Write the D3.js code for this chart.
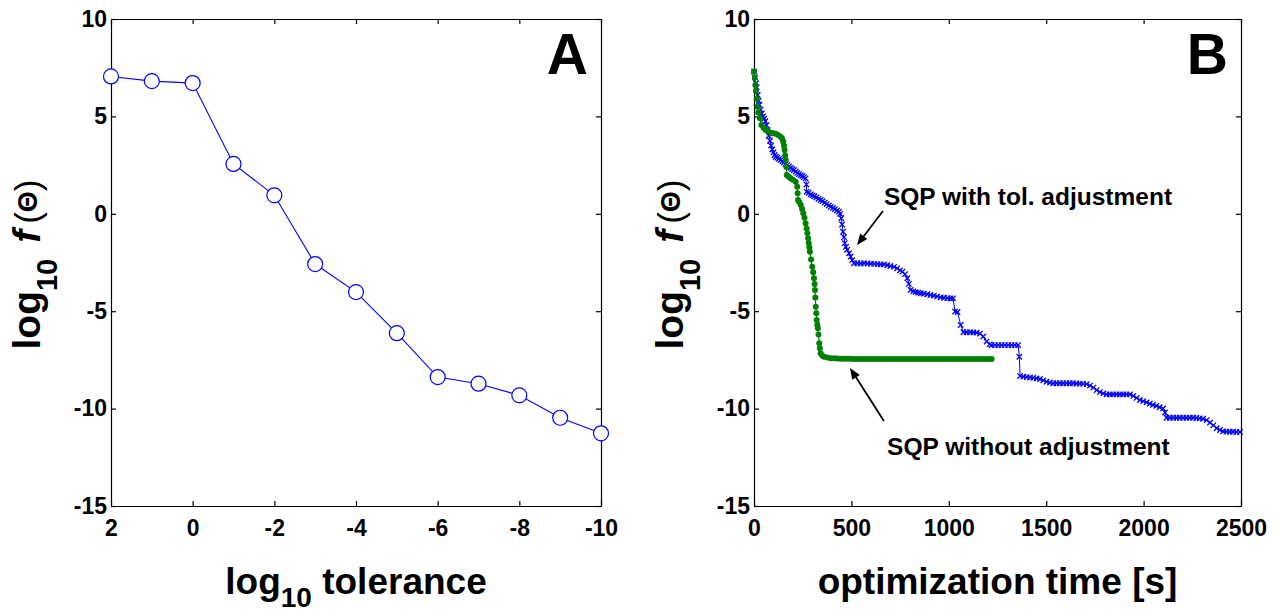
<!DOCTYPE html>
<html lang="en">
<head>
    <meta charset="UTF-8">
    <title>SQP tolerance and optimization time</title>
    <script src="https://d3js.org/d3.v7.min.js"></script>
    <style>
        body { margin: 0; background: #fff; }
        svg { display: block; font-family: "Liberation Sans", Arial, Helvetica, sans-serif; }
        .axis text { font-size: 23px; font-weight: bold; fill: #000; }
        .axis path, .axis line { stroke: #000; stroke-width: 1.2; }
    </style>
</head>
<body>
    <svg id="chart" width="1278" height="613"></svg>

    <script>
        // Panel A: final objective value per tolerance
        const tolExp = [2, 1, 0, -1, -2, -3, -4, -5, -6, -7, -8, -9, -10];
        const tolLogF = [7.05, 6.81, 6.71, 2.56, 0.95, -2.58, -4.02, -6.13, -8.38, -8.72, -9.32, -10.47, -11.27];

        // Panel B: SQP with tolerance adjustment (blue x)
        const timeAdj = [0, 5, 10, 14, 19, 24, 28, 34, 40, 46, 52, 58, 64, 70, 76, 82, 88, 94, 100, 106,
            112, 120, 128, 137, 146, 154, 162, 171, 180, 188, 196, 205, 214, 222, 231, 240, 248, 256, 265, 269,
            270, 280, 291, 300, 310, 320, 331, 342, 352, 363, 373, 384, 394, 405, 415, 426, 436, 442, 448, 452,
            457, 462, 466, 472, 478, 488, 496, 504, 513, 530, 548, 565, 582, 600, 617, 634, 650, 667, 684, 700,
            719, 735, 750, 762, 775, 787, 795, 804, 818, 830, 843, 856, 872, 889, 906, 923, 940, 958, 975, 992,
            1009, 1022, 1032, 1045, 1061, 1075, 1092, 1109, 1126, 1143, 1160, 1177, 1194, 1210, 1220, 1237, 1254, 1271, 1288, 1305,
            1322, 1339, 1356, 1362, 1366, 1383, 1400, 1417, 1434, 1451, 1468, 1485, 1502, 1519, 1536, 1553, 1570, 1587, 1604, 1621,
            1638, 1655, 1672, 1690, 1708, 1725, 1742, 1759, 1776, 1793, 1810, 1827, 1844, 1861, 1878, 1895, 1912, 1930, 1947, 1964,
            1981, 1998, 2015, 2032, 2048, 2065, 2082, 2100, 2110, 2118, 2135, 2152, 2169, 2186, 2203, 2220, 2237, 2254, 2271, 2288,
            2305, 2324, 2341, 2358, 2375, 2392, 2408, 2425, 2442, 2459, 2476, 2495];
        const logFAdj = [7.3, 7.0, 6.7, 6.5, 6.1, 5.8, 5.6, 5.35, 5.15, 5.0, 4.88, 4.75, 4.55, 4.3, 4.0, 3.75, 3.5, 3.3, 3.15, 3.02,
            2.93, 2.88, 2.82, 2.76, 2.7, 2.63, 2.56, 2.5, 2.43, 2.36, 2.3, 2.25, 2.17, 2.1, 2.04, 1.99, 1.94, 1.88, 1.82, 1.5,
            1.13, 1.08, 1.0, 0.95, 0.9, 0.84, 0.77, 0.71, 0.65, 0.57, 0.5, 0.43, 0.36, 0.3, 0.24, 0.17, 0.11, 0.0, -0.23, -0.55,
            -0.92, -1.2, -1.51, -1.7, -1.85, -2.03, -2.2, -2.38, -2.54, -2.54, -2.55, -2.54, -2.55, -2.56, -2.57, -2.58, -2.6, -2.6, -2.64, -2.68,
            -2.72, -2.8, -2.9, -2.97, -3.1, -3.31, -3.6, -3.91, -3.98, -4.02, -4.05, -4.08, -4.1, -4.13, -4.17, -4.2, -4.24, -4.29, -4.31, -4.33,
            -4.34, -4.34, -5.02, -5.04, -5.71, -6.08, -6.08, -6.08, -6.09, -6.1, -6.15, -6.3, -6.56, -6.7, -6.74, -6.74, -6.74, -6.74, -6.74, -6.74,
            -6.74, -6.74, -6.74, -7.34, -8.33, -8.36, -8.38, -8.4, -8.42, -8.45, -8.48, -8.55, -8.62, -8.67, -8.7, -8.7, -8.7, -8.7, -8.7, -8.7,
            -8.7, -8.71, -8.72, -8.73, -8.74, -8.82, -8.92, -9.05, -9.15, -9.22, -9.27, -9.27, -9.27, -9.27, -9.27, -9.27, -9.27, -9.27, -9.35, -9.45,
            -9.56, -9.62, -9.68, -9.75, -9.81, -9.86, -9.93, -9.99, -10.2, -10.47, -10.47, -10.47, -10.47, -10.47, -10.47, -10.47, -10.47, -10.47, -10.48, -10.5,
            -10.52, -10.59, -10.72, -10.86, -11.01, -11.1, -11.17, -11.18, -11.19, -11.19, -11.2, -11.2];

        // Panel B: SQP without adjustment (green dots)
        const timeNoAdj = [0, 4, 7, 10, 14, 18, 22, 30, 38, 49, 60, 73, 86, 98, 111, 124, 137, 145, 150, 154,
            157, 160, 163, 166, 168, 178, 188, 200, 214, 222, 224, 226, 232, 240, 247, 253, 259, 265, 270, 274,
            278, 281, 284, 287, 293, 299, 304, 308, 311, 313, 315, 317, 320, 322, 325, 328, 331, 335, 338, 342,
            350, 359, 376, 393, 410, 427, 444, 461, 478, 495, 512, 529, 546, 563, 580, 597, 614, 631, 648, 665,
            682, 699, 716, 733, 750, 767, 784, 801, 818, 835, 852, 869, 886, 903, 920, 937, 954, 971, 988, 1005,
            1022, 1039, 1056, 1073, 1090, 1107, 1124, 1141, 1158, 1175, 1192, 1209, 1220];
        const logFNoAdj = [7.3, 7.0, 6.61, 6.3, 5.9, 5.5, 5.2, 4.9, 4.56, 4.42, 4.3, 4.22, 4.16, 4.13, 4.11, 4.05, 3.96, 3.85, 3.7, 3.5,
            3.28, 3.0, 2.76, 2.4, 1.99, 1.9, 1.82, 1.75, 1.65, 1.39, 1.05, 0.71, 0.6, 0.45, 0.25, 0.03, -0.2, -0.49, -0.75, -1.0,
            -1.25, -1.5, -1.72, -1.95, -2.35, -2.72, -3.0, -3.31, -3.6, -3.91, -4.3, -4.77, -5.1, -5.45, -5.7, -5.88, -6.2, -6.65, -6.9, -7.16,
            -7.28, -7.34, -7.38, -7.41, -7.42, -7.43, -7.44, -7.44, -7.44, -7.44, -7.45, -7.45, -7.45, -7.45, -7.45, -7.45, -7.45, -7.45, -7.45, -7.45,
            -7.45, -7.45, -7.45, -7.45, -7.45, -7.45, -7.45, -7.45, -7.45, -7.45, -7.45, -7.45, -7.45, -7.45, -7.45, -7.45, -7.45, -7.45, -7.45, -7.45,
            -7.45, -7.45, -7.45, -7.45, -7.45, -7.45, -7.45, -7.45, -7.45, -7.45, -7.45, -7.45, -7.45];

        const xTicksA = [2, 0, -2, -4, -6, -8, -10];
        const xTicksB = [0, 500, 1000, 1500, 2000, 2500];
        const yTicks = [10, 5, 0, -5, -10, -15];

        const svg = d3.select("#chart");

        const panelA = { left: 111, right: 601, top: 19, bottom: 506 };
        const panelB = { left: 754, right: 1241, top: 19, bottom: 506 };

        const plain = d => String(d); // hyphen minus, no thousands separator

        function drawFrame(p, x, y, xTicks) {
            // bottom + left with labels, top + right mirrored ticks only
            svg.append("g").attr("class", "axis")
                .attr("transform", `translate(0,${p.bottom})`)
                .call(d3.axisBottom(x).tickValues(xTicks).tickFormat(plain).tickSizeInner(-5).tickSizeOuter(0).tickPadding(14));
            svg.append("g").attr("class", "axis")
                .attr("transform", `translate(0,${p.top})`)
                .call(d3.axisTop(x).tickValues(xTicks).tickSizeInner(-5).tickSizeOuter(0).tickFormat(""));
            svg.append("g").attr("class", "axis")
                .attr("transform", `translate(${p.left},0)`)
                .call(d3.axisLeft(y).tickValues(yTicks).tickFormat(plain).tickSizeInner(-5).tickSizeOuter(0).tickPadding(4));
            svg.append("g").attr("class", "axis")
                .attr("transform", `translate(${p.right},0)`)
                .call(d3.axisRight(y).tickValues(yTicks).tickSizeInner(-5).tickSizeOuter(0).tickFormat(""));
            svg.selectAll(".axis").attr("font-family", null).attr("font-size", null);
        }

        function yLabel(p) {
            const t = svg.append("text")
                .attr("transform", `translate(${p.left - 71},${(p.top + p.bottom) / 2 + 2}) rotate(-90)`)
                .attr("text-anchor", "middle")
                .attr("font-weight", "bold")
                .attr("font-size", 39);
            t.append("tspan").text("log");
            t.append("tspan").attr("font-size", 29).attr("dy", 17).text("10");
            t.append("tspan").attr("dy", -17).attr("dx", 16).attr("font-style", "italic").text("f");
            t.append("tspan").attr("dx", 6).attr("font-size", 35).attr("font-weight", "normal").text("(");
            t.append("tspan").attr("font-size", 27).attr("dy", -3).text("Θ");
            t.append("tspan").attr("font-size", 35).attr("dy", 3).attr("font-weight", "normal").text(")");
        }

        function panelLetter(p, letter) {
            svg.append("text")
                .attr("x", p.right - 13)
                .attr("y", 74)
                .attr("text-anchor", "end")
                .attr("font-weight", "bold")
                .attr("font-size", 57)
                .text(letter);
        }

        // ---------- Panel A ----------
        const xA = d3.scaleLinear().domain([2, -10]).range([panelA.left, panelA.right]);
        const yA = d3.scaleLinear().domain([-15, 10]).range([panelA.bottom, panelA.top]);
        drawFrame(panelA, xA, yA, xTicksA);

        const ptsA = tolExp.map((d, i) => ({ x: d, y: tolLogF[i] }));
        svg.append("path")
            .datum(ptsA)
            .attr("fill", "none")
            .attr("stroke", "#0000ff")
            .attr("stroke-width", 1.1)
            .attr("d", d3.line().x(d => xA(d.x)).y(d => yA(d.y)));
        svg.selectAll(".ptA")
            .data(ptsA)
            .enter().append("circle")
            .attr("class", "ptA")
            .attr("cx", d => xA(d.x))
            .attr("cy", d => yA(d.y))
            .attr("r", 7.5)
            .attr("fill", "#fff")
            .attr("stroke", "#0000ff")
            .attr("stroke-width", 1.2);

        yLabel(panelA);
        const xlA = svg.append("text")
            .attr("x", (panelA.left + panelA.right) / 2)
            .attr("y", 594)
            .attr("text-anchor", "middle")
            .attr("font-weight", "bold")
            .attr("font-size", 37);
        xlA.append("tspan").text("log");
        xlA.append("tspan").attr("font-size", 28).attr("dy", 13).text("10");
        xlA.append("tspan").attr("dy", -13).text(" tolerance");
        panelLetter(panelA, "A");

        // ---------- Panel B ----------
        const xB = d3.scaleLinear().domain([0, 2500]).range([panelB.left, panelB.right]);
        const yB = d3.scaleLinear().domain([-15, 10]).range([panelB.bottom, panelB.top]);
        drawFrame(panelB, xB, yB, xTicksB);

        const ptsAdj = timeAdj.map((d, i) => ({ x: d, y: logFAdj[i] }));
        const ptsNoAdj = timeNoAdj.map((d, i) => ({ x: d, y: logFNoAdj[i] }));
        const lineB = d3.line().x(d => xB(d.x)).y(d => yB(d.y));

        svg.append("path")
            .datum(ptsAdj)
            .attr("fill", "none")
            .attr("stroke", "#0000ff")
            .attr("stroke-width", 1)
            .attr("d", lineB);
        const s = 2.7;
        svg.selectAll(".ptAdj")
            .data(ptsAdj)
            .enter().append("path")
            .attr("class", "ptAdj")
            .attr("transform", d => `translate(${xB(d.x)},${yB(d.y)})`)
            .attr("d", `M${-s},${-s}L${s},${s}M${-s},${s}L${s},${-s}`)
            .attr("stroke", "#0000ff")
            .attr("stroke-width", 1.3);

        svg.append("path")
            .datum(ptsNoAdj)
            .attr("fill", "none")
            .attr("stroke", "#008000")
            .attr("stroke-width", 1.2)
            .attr("d", lineB);
        svg.selectAll(".ptNoAdj")
            .data(ptsNoAdj)
            .enter().append("circle")
            .attr("class", "ptNoAdj")
            .attr("cx", d => xB(d.x))
            .attr("cy", d => yB(d.y))
            .attr("r", 3)
            .attr("fill", "#008000");

        // annotations (data units)
        const notes = [
            { text: "SQP with tol. adjustment", tx: 667, ty: 0.45, x0: 662, y0: 0.14, x1: 529, y1: -1.6 },
            { text: "SQP without adjustment", tx: 683, ty: -12.38, x0: 667, y0: -10.64, x1: 493, y1: -7.92 }
        ];
        notes.forEach(n => {
            svg.append("text")
                .attr("x", xB(n.tx))
                .attr("y", yB(n.ty))
                .attr("font-weight", "bold")
                .attr("font-size", 24.5)
                .text(n.text);
            const ax0 = xB(n.x0), ay0 = yB(n.y0), ax1 = xB(n.x1), ay1 = yB(n.y1);
            const ang = Math.atan2(ay1 - ay0, ax1 - ax0);
            const hl = 11, hw = 4.5;
            const bx = ax1 - hl * Math.cos(ang), by = ay1 - hl * Math.sin(ang);
            svg.append("line")
                .attr("x1", ax0).attr("y1", ay0).attr("x2", bx).attr("y2", by)
                .attr("stroke", "#000").attr("stroke-width", 1.8);
            svg.append("path")
                .attr("d", `M${ax1},${ay1}L${bx - hw * Math.sin(ang)},${by + hw * Math.cos(ang)}L${bx + hw * Math.sin(ang)},${by - hw * Math.cos(ang)}Z`)
                .attr("fill", "#000");
        });

        yLabel(panelB);
        svg.append("text")
            .attr("x", (panelB.left + panelB.right) / 2)
            .attr("y", 594)
            .attr("text-anchor", "middle")
            .attr("font-weight", "bold")
            .attr("font-size", 37)
            .text("optimization time [s]");
        panelLetter(panelB, "B");
    </script>
</body>
</html>
